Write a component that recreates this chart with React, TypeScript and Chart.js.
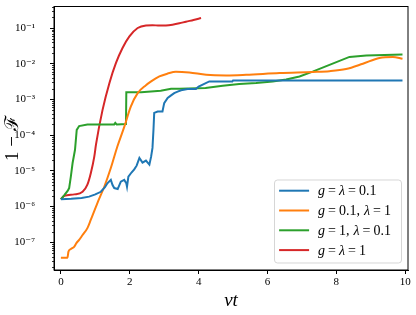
import React, { useEffect, useRef } from 'react';
import { Chart, registerables } from 'chart.js';

Chart.register(...registerables);

// ---------- data ----------
const seriesLabels = ['g = λ = 0.1', 'g = 0.1, λ = 1', 'g = 1, λ = 0.1', 'g = λ = 1'];
const seriesColors = ['#1f77b4', '#ff7f0e', '#2ca02c', '#d62728'];

const blueX = [0, 0.3, 0.6, 0.82, 1.0, 1.16, 1.28, 1.35, 1.45, 1.5, 1.55, 1.65, 1.74, 1.84, 1.9, 1.92, 1.96, 2.05, 2.13, 2.2, 2.28, 2.37, 2.47, 2.57, 2.62, 2.66, 2.69, 2.71, 2.81, 2.95, 3.0, 3.1, 3.2, 3.29, 3.39, 3.49, 3.68, 3.92, 4.0, 4.31, 4.98, 5.0, 9.92];
const blueY = [1.6e-6, 1.65e-6, 1.75e-6, 1.9e-6, 2.2e-6, 2.6e-6, 3.5e-6, 4.5e-6, 5.6e-6, 4e-6, 3.3e-6, 3.1e-6, 5e-6, 5.6e-6, 4.5e-6, 3.6e-6, 6.9e-6, 9e-6, 1.1e-5, 1.4e-5, 2.3e-5, 1.7e-5, 1.95e-5, 1.5e-5, 2.5e-5, 4.4e-5, 1.5e-4, 4.2e-4, 4.6e-4, 4.6e-4, 7.9e-4, 1.1e-3, 1.3e-3, 1.5e-3, 1.65e-3, 1.8e-3, 1.95e-3, 1.95e-3, 2.3e-3, 3.2e-3, 3.2e-3, 3.4e-3, 3.4e-3];

const orangeX = [0, 0.19, 0.22, 0.29, 0.39, 0.45, 0.53, 0.63, 0.77, 0.87, 1.06, 1.26, 1.45, 1.64, 1.84, 2.03, 2.23, 2.47, 2.62, 2.86, 3.1, 3.34, 3.73, 4.22, 4.8, 5.38, 6.35, 7.31, 7.8, 8.28, 8.77, 9.25, 9.64, 9.92];
const orangeY = [3.7e-8, 3.7e-8, 5.5e-8, 6.5e-8, 7.6e-8, 9.5e-8, 1.17e-7, 1.6e-7, 2.5e-7, 4.3e-7, 1.26e-6, 3.6e-6, 1.2e-5, 4.8e-5, 1.7e-4, 6.3e-4, 1.5e-3, 2.5e-3, 3.2e-3, 4.4e-3, 5.3e-3, 6e-3, 5.7e-3, 4.9e-3, 4.7e-3, 4.9e-3, 5.5e-3, 5.9e-3, 6.2e-3, 7.1e-3, 1e-2, 1.45e-2, 1.55e-2, 1.38e-2];

const greenX = [0, 0.1, 0.2, 0.24, 0.29, 0.34, 0.41, 0.46, 0.53, 0.77, 1.2, 1.55, 1.58, 1.62, 1.89, 1.9, 1.92, 2.33, 2.9, 3.2, 3.44, 4.2, 4.7, 5.18, 5.67, 6.15, 6.54, 6.93, 7.31, 7.8, 8.38, 8.87, 9.92];
const greenY = [1.6e-6, 2.1e-6, 2.8e-6, 3.3e-6, 7e-6, 1.66e-5, 3.9e-5, 1.4e-4, 1.8e-4, 2.0e-4, 2.0e-4, 2.0e-4, 2.2e-4, 2.0e-4, 2.05e-4, 1.6e-3, 1.6e-3, 1.6e-3, 1.75e-3, 2.0e-3, 2.0e-3, 2.1e-3, 2.4e-3, 2.7e-3, 2.9e-3, 3.2e-3, 3.6e-3, 4.4e-3, 6e-3, 9.3e-3, 1.55e-2, 1.7e-2, 1.8e-2];

const redX = [0, 0.1, 0.39, 0.63, 0.77, 0.87, 0.97, 1.02, 1.21, 1.41, 1.6, 1.79, 1.99, 2.23, 2.47, 2.66, 2.86, 3.05, 3.24, 3.44, 3.63, 3.85, 4.07];
const redY = [1.6e-6, 2.0e-6, 2.2e-6, 2.6e-6, 4.1e-6, 8.7e-6, 2.5e-5, 5.5e-5, 5.1e-4, 2.9e-3, 1.05e-2, 2.75e-2, 5.8e-2, 0.1, 0.118, 0.12, 0.117, 0.118, 0.124, 0.135, 0.15, 0.168, 0.19];

const xTicks = [0, 2, 4, 6, 8, 10];
const yTicks = [1e-7, 1e-6, 1e-5, 1e-4, 1e-3, 1e-2, 1e-1];
const yTickLabels = ['10⁻⁷', '10⁻⁶', '10⁻⁵', '10⁻⁴', '10⁻³', '10⁻²', '10⁻¹'];

const xLabel = 'νt';
const yLabel = '1 − ℱ';

const xs = [blueX, orangeX, greenX, redX];
const ys = [blueY, orangeY, greenY, redY];
const smooth = [false, true, false, true];

const SERIF = '"Liberation Serif", "DejaVu Serif", serif';

const extrasPlugin = {
  id: 'extras',
  afterDraw(chart: any) {
    const { ctx, chartArea: a, scales } = chart;
    ctx.save();
    // frame
    ctx.strokeStyle = '#000';
    ctx.lineWidth = 1;
    ctx.strokeRect(a.left, a.top, a.right - a.left, a.bottom - a.top);
    // minor y ticks
    const y = scales.y;
    ctx.beginPath();
    for (let k = -9; k <= 0; k++) {
      for (let m = 2; m <= 9; m++) {
        const v = m * Math.pow(10, k);
        if (v < y.min || v > y.max) continue;
        const py = Math.round(y.getPixelForValue(v)) + 0.5;
        ctx.moveTo(a.left - 2, py);
        ctx.lineTo(a.left, py);
      }
    }
    ctx.lineWidth = 0.8;
    ctx.stroke();

    // legend
    const w = 127, h = 83;
    const lx = a.right - 6.5 - w, ly = a.bottom - 7 - h;
    ctx.beginPath();
    const r = 3;
    ctx.moveTo(lx + r, ly);
    ctx.arcTo(lx + w, ly, lx + w, ly + h, r);
    ctx.arcTo(lx + w, ly + h, lx, ly + h, r);
    ctx.arcTo(lx, ly + h, lx, ly, r);
    ctx.arcTo(lx, ly, lx + w, ly, r);
    ctx.closePath();
    ctx.fillStyle = 'rgba(255,255,255,0.8)';
    ctx.fill();
    ctx.strokeStyle = 'rgba(204,204,204,0.8)';
    ctx.lineWidth = 1;
    ctx.stroke();

    chart.data.datasets.forEach((ds: any, i: number) => {
      const ry = ly + 10.7 + i * 19.8;
      ctx.beginPath();
      ctx.moveTo(lx + 4.6, ry);
      ctx.lineTo(lx + 34.6, ry);
      ctx.strokeStyle = ds.borderColor;
      ctx.lineWidth = 2;
      ctx.stroke();
      let tx = lx + 43.6;
      ctx.fillStyle = '#000';
      ctx.textBaseline = 'middle';
      ctx.textAlign = 'left';
      const label: string = ds.label;
      for (const ch of label) {
        if (ch === ' ') continue;
        const italic = /[gλ]/.test(ch);
        ctx.font = `${italic ? 'italic ' : ''}14px ${SERIF}`;
        if (ch === '=') tx += 3;
        ctx.fillText(ch, tx, ry + 1);
        tx += ctx.measureText(ch).width;
        if (ch === '=') tx += 3;
        if (ch === ',') tx += 4;
      }
    });
    ctx.restore();
  },
};

export default function App() {
  const ref = useRef<HTMLCanvasElement | null>(null);
  useEffect(() => {
    document.body.style.margin = '0';
    const canvas = ref.current;
    if (!canvas) return;
    const chart = new Chart(canvas, {
      type: 'line',
      data: {
        datasets: seriesLabels.map((label, i) => ({
          label,
          data: xs[i].map((x, j) => ({ x, y: ys[i][j] })),
          borderColor: seriesColors[i],
          backgroundColor: seriesColors[i],
          borderWidth: 2,
          pointRadius: 0,
          fill: false,
          tension: smooth[i] ? 0.4 : 0,
          cubicInterpolationMode: smooth[i] ? 'monotone' : 'default',
        })),
      },
      options: {
        animation: false,
        responsive: false,
        maintainAspectRatio: false,
        layout: { padding: { top: 6.5, right: 8, left: 0, bottom: 0 } },
        plugins: { legend: { display: false }, tooltip: { enabled: false } },
        scales: {
          x: {
            type: 'linear',
            min: -0.2,
            max: 10.08,
            afterBuildTicks: (s: any) => { s.ticks = xTicks.map((v) => ({ value: v })); },
            afterFit: (s: any) => { s.height = 45; s.paddingLeft = 0; s.paddingRight = 0; },
            ticks: {
              color: '#000',
              font: { family: SERIF, size: 11 },
              padding: 2,
              maxRotation: 0,
              autoSkip: false,
              callback: (v: any) => String(v),
            },
            grid: { drawOnChartArea: false, drawTicks: true, tickLength: 4, color: '#000', lineWidth: 1 },
            border: { display: true, color: '#000', width: 1 },
            title: {
              display: true,
              text: xLabel,
              color: '#000',
              font: { family: SERIF, size: 19, style: 'italic' },
              padding: { top: 2, bottom: 3 },
            },
          },
          y: {
            type: 'logarithmic',
            min: 1.68e-8,
            max: 0.4,
            afterBuildTicks: (s: any) => { s.ticks = yTicks.map((v) => ({ value: v })); },
            afterFit: (s: any) => { s.width = 54; s.paddingTop = 0; s.paddingBottom = 0; },
            ticks: {
              color: '#000',
              font: { family: SERIF, size: 11 },
              padding: 15,
              autoSkip: false,
              callback: (v: any) => {
                const idx = yTicks.findIndex((t) => Math.abs(Math.log10(t) - Math.log10(v)) < 1e-6);
                return idx >= 0 ? yTickLabels[idx] : '';
              },
            },
            grid: { drawOnChartArea: false, drawTicks: true, tickLength: 4, color: '#000', lineWidth: 1 },
            border: { display: true, color: '#000', width: 1 },
            title: {
              display: true,
              text: yLabel,
              color: '#000',
              font: { family: SERIF, size: 19 },
              padding: { top: 2, bottom: 0 },
            },
          },
        },
      },
      plugins: [extrasPlugin],
    } as any);
    return () => chart.destroy();
  }, []);
  return (
    <div style={{ width: 416, height: 315 }}>
      <canvas ref={ref} width={416} height={315} />
    </div>
  );
}
